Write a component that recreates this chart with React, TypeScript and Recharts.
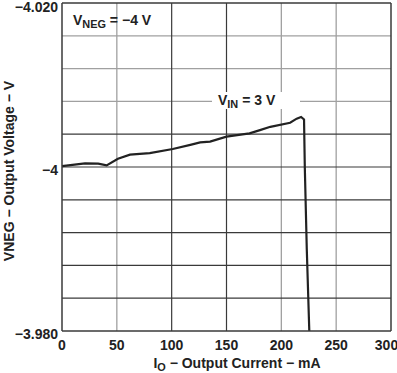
import React from 'react';
import { LineChart, Line, XAxis, YAxis, ReferenceLine } from 'recharts';

// output current, mA
const current = [0, 21, 33, 40.7, 51, 62, 80, 101, 117, 126, 135, 150, 171, 180.5, 190, 208, 214, 218, 220.7, 221.4, 223.2, 225.5];
// output voltage, V
const voltage = [-4.0001, -4.00044, -4.0004, -4.0002, -4.001, -4.0015, -4.0017, -4.0022, -4.0027, -4.003, -4.0031, -4.0037, -4.0041, -4.0045, -4.0049, -4.0054, -4.0059, -4.0061, -4.0058, -4.0, -3.99, -3.98];

const xTicks = [0, 50, 100, 150, 200, 250, 300];
const yTicks = [-4.02, -4, -3.98];
const yTickLabels = ['\u22124.020', '\u22124', '\u22123.980'];

const grayRows = [-4.016, -4.012, -4.008];
const darkRows = [-4.004, -4.0, -3.996, -3.992, -3.988, -3.984];
const grayCols = [50, 200, 250];
const darkCols = [100, 150];

const data = current.map((c, i) => ({ current: c, voltage: voltage[i] }));

const FONT = '"Liberation Sans", Arial, sans-serif';
const GRAY = '#a0a0a0';
const DARK = '#3a3a3a';

const YTick = (props: any) => {
  const { x, y, payload } = props;
  const idx = yTicks.indexOf(payload.value);
  // keep the top label inside the picture
  const shift = idx === 0 ? 4.5 : 3;
  return (
    <text x={x} y={y + shift} dy="0.355em" textAnchor="end" fill="#222" fontSize={14} fontWeight="bold" fontFamily={FONT}>
      {idx >= 0 ? yTickLabels[idx] : payload.value}
    </text>
  );
};

const sub: React.CSSProperties = { fontSize: '0.78em', verticalAlign: '-0.3em' };

export default function App() {
  return (
    <div style={{ position: 'absolute', left: 0, top: 0, width: 397, height: 373, background: '#fff', fontFamily: FONT, color: '#222' }}>
      <LineChart width={397} height={373} data={data} margin={{ top: 3, right: 6, bottom: 20, left: 0 }} style={{ overflow: 'visible' }}>
        <XAxis
          dataKey="current"
          type="number"
          domain={[0, 300]}
          ticks={xTicks}
          height={22}
          tickLine={false}
          tickSize={0}
          tickMargin={9}
          axisLine={{ stroke: DARK, strokeWidth: 1.5 }}
          tick={{ fill: '#222', fontSize: 14, fontWeight: 'bold', fontFamily: FONT }}
        />
        <YAxis
          type="number"
          domain={[-4.02, -3.98]}
          reversed
          ticks={yTicks}
          width={62}
          tickLine={false}
          tickSize={0}
          tickMargin={4}
          axisLine={{ stroke: DARK, strokeWidth: 1.5 }}
          tick={<YTick />}
          interval={0}
          allowDataOverflow
        />
        {grayRows.map((v) => (
          <ReferenceLine key={'gr' + v} y={v} stroke={GRAY} strokeWidth={1.3} />
        ))}
        {grayCols.map((v) => (
          <ReferenceLine key={'gc' + v} x={v} stroke={GRAY} strokeWidth={1.3} />
        ))}
        {darkRows.map((v) => (
          <ReferenceLine key={'dr' + v} y={v} stroke={DARK} strokeWidth={1.2} />
        ))}
        {darkCols.map((v) => (
          <ReferenceLine key={'dc' + v} x={v} stroke={DARK} strokeWidth={1.2} />
        ))}
        <ReferenceLine y={-4.02} stroke={DARK} strokeWidth={1.5} />
        <ReferenceLine x={300} stroke={DARK} strokeWidth={1.5} />
        <Line
          type="linear"
          dataKey="voltage"
          stroke="#222"
          strokeWidth={2.2}
          dot={false}
          isAnimationActive={false}
        />
      </LineChart>

      <div style={{ position: 'absolute', left: 73, top: 11, fontSize: 14, fontWeight: 'bold', whiteSpace: 'nowrap', lineHeight: '18px' }}>
        V<span style={sub}>NEG</span> = {'\u2212'}4 V
      </div>

      <div style={{ position: 'absolute', left: 212, top: 92, width: 88, height: 17, background: '#fff' }} />
      <div style={{ position: 'absolute', left: 218, top: 91, fontSize: 14, fontWeight: 'bold', whiteSpace: 'nowrap', lineHeight: '18px' }}>
        V<span style={sub}>IN</span> = 3 V
      </div>

      <div style={{ position: 'absolute', left: 87, top: 354, width: 300, height: 18, lineHeight: '18px', textAlign: 'center', fontSize: 14, fontWeight: 'bold', whiteSpace: 'nowrap' }}>
        I<span style={sub}>O</span> {'\u2212'} Output Current {'\u2212'} mA
      </div>

      <div style={{ position: 'absolute', left: 9 - 130, top: 171 - 10, width: 260, height: 20, lineHeight: '20px', textAlign: 'center', fontSize: 14, fontWeight: 'bold', whiteSpace: 'nowrap', transform: 'rotate(-90deg)' }}>
        VNEG {'\u2212'} Output Voltage {'\u2212'} V
      </div>
    </div>
  );
}
